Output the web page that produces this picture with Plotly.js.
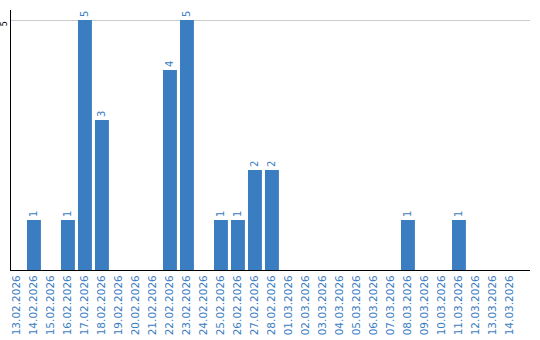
<!DOCTYPE html>
<html><head><meta charset="utf-8">
<script src="https://cdn.plot.ly/plotly-3.0.1.min.js"></script>
<style>html,body{margin:0;padding:0;background:#fff}</style>
</head><body><div id="chart" style="width:540px;height:340px"></div>
<script>
const dates = ["13.02.2026","14.02.2026","15.02.2026","16.02.2026","17.02.2026","18.02.2026","19.02.2026","20.02.2026","21.02.2026","22.02.2026","23.02.2026","24.02.2026","25.02.2026","26.02.2026","27.02.2026","28.02.2026","01.03.2026","02.03.2026","03.03.2026","04.03.2026","05.03.2026","06.03.2026","07.03.2026","08.03.2026","09.03.2026","10.03.2026","11.03.2026","12.03.2026","13.03.2026","14.03.2026"];
const counts = [0,1,0,1,5,3,0,0,0,4,5,0,1,1,2,2,0,0,0,0,0,0,0,1,0,0,1,0,0,0];
const yTicks = [5];

const barColor = '#3b7dc1';
const labels = counts.map(v => v > 0 ? String(v) : '');
Plotly.newPlot('chart', [{
  type: 'bar',
  x: dates.map((d,i)=>i),
  y: counts,
  text: labels,
  textposition: 'outside',
  textangle: -90,
  cliponaxis: false,
  textfont: {family: 'DejaVu Sans', size: 10, color: barColor},
  marker: {color: barColor},
  hoverinfo: 'none'
}], {
  width: 540, height: 340,
  margin: {l: 11, r: 10, t: 10, b: 70, pad: 0},
  bargap: 0.18,
  showlegend: false,
  paper_bgcolor: '#fff', plot_bgcolor: '#fff',
  xaxis: {
    range: [-0.35, 30.18],
    tickmode: 'array', tickvals: dates.map((d,i)=>i), ticktext: dates,
    tickangle: -90, ticks: '', showgrid: false, zeroline: false,
    showline: true, linecolor: '#000', linewidth: 1,
    tickfont: {family: 'DejaVu Sans', size: 10.5, color: barColor}
  },
  yaxis: {
    range: [0, 5.2],
    tickmode: 'array', tickvals: yTicks, ticktext: yTicks.map(String),
    tickangle: -90, ticks: '', showgrid: true, gridcolor: '#cccccc', gridwidth: 1,
    zeroline: false, showline: true, linecolor: '#000', linewidth: 1,
    tickfont: {family: 'DejaVu Sans', size: 8, color: '#000'}, ticklabelstandoff: 0, ticklabelshift: 5
  }
}, {displayModeBar: false, staticPlot: true});
</script></body></html>
